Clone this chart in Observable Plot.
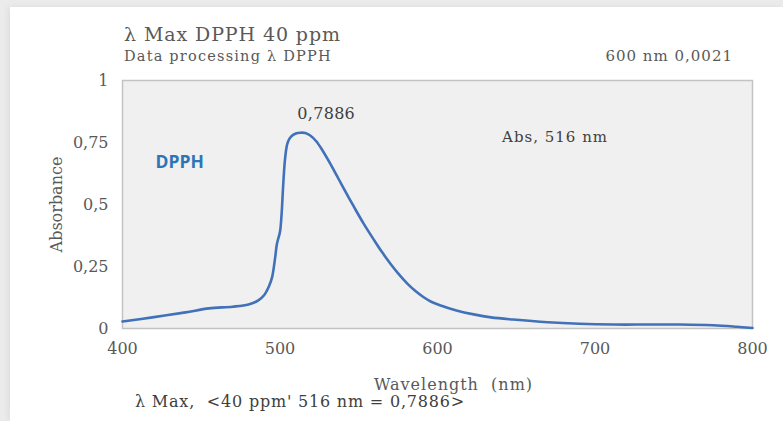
<!DOCTYPE html>
<html>
<head>
<meta charset="utf-8">
<script src="https://cdn.jsdelivr.net/npm/d3@7"></script>
<script src="https://cdn.jsdelivr.net/npm/@observablehq/plot@0.6"></script>
<style>
  html, body { margin: 0; padding: 0; }
  body { width: 783px; height: 421px; overflow: hidden; background: #ebebeb; position: relative; font-family: "DejaVu Serif", serif; }
  #card { position: absolute; left: 10px; top: 7px; right: 0; bottom: 0; background: #fff; box-shadow: -2px 0 6px rgba(0,0,0,0.06); }
  .t { position: absolute; white-space: pre; line-height: 1; color: #595959; }
  #title { left: 124px; top: 25px; font-size: 19px; letter-spacing: 0.9px; }
  #subtitle { left: 124px; top: 49px; font-size: 14.5px; letter-spacing: 1.2px; }
  #right { right: 50px; top: 49px; font-size: 15px; letter-spacing: 1px; }
  #chart { position: absolute; left: 0; top: 66px; }
  #caption { left: 135px; top: 394px; font-size: 16px; color: #404040; letter-spacing: 0.8px; }
</style>
</head>
<body>
<div id="card"></div>
<div class="t" id="title">λ Max DPPH 40 ppm</div>
<div class="t" id="subtitle">Data processing λ DPPH</div>
<div class="t" id="right">600 nm 0,0021</div>
<div id="chart"></div>
<div class="t" id="caption">λ Max,  &lt;40 ppm' 516 nm = 0,7886&gt;</div>
<script>
const wavelength = [400, 420, 440, 455, 470, 480, 486, 490, 493, 495, 497, 498, 500, 501, 502, 503, 504, 505, 507, 510, 513, 516, 519, 523, 527, 532, 536, 540, 547, 553, 560, 565, 570, 575, 581, 586, 591, 596, 602, 612, 623, 634, 648, 670, 690, 712, 733, 754, 775, 790, 800];
const absorbance = [0.028, 0.046, 0.065, 0.081, 0.088, 0.097, 0.112, 0.135, 0.17, 0.207, 0.29, 0.34, 0.39, 0.46, 0.575, 0.67, 0.725, 0.752, 0.774, 0.786, 0.7895, 0.7886, 0.779, 0.755, 0.718, 0.664, 0.617, 0.57, 0.49, 0.424, 0.354, 0.306, 0.262, 0.222, 0.18, 0.151, 0.127, 0.108, 0.093, 0.073, 0.057, 0.045, 0.036, 0.025, 0.019, 0.016, 0.016, 0.016, 0.013, 0.007, 0.002];
const xTicks = [400, 500, 600, 700, 800];
const yTicks = [0, 0.25, 0.5, 0.75, 1];
const peakWavelength = [516];
const peakAbsorbance = [0.7886];
const seriesName = ["DPPH"];
const noteText = ["Abs, 516 nm"];
const xLabel = "Wavelength  (nm)";
const yLabel = "Absorbance";

const data = wavelength.map((w, i) => ({w, a: absorbance[i]}));
const comma = d => String(d).replace(".", ",");

const chart = Plot.plot({
  width: 783,
  height: 328,
  marginLeft: 122,
  marginRight: 31,
  marginTop: 14,
  marginBottom: 66,
  style: {fontFamily: "DejaVu Serif", fontSize: "16px", color: "#595959", background: "transparent"},
  x: {domain: [400, 800], ticks: xTicks, tickFormat: comma, tickSize: 0, tickPadding: 14, label: null},
  y: {domain: [0, 1], ticks: yTicks, tickFormat: comma, tickSize: 0, tickPadding: 14, label: null},
  marks: [
    Plot.frame({fill: "#f0f0f0", stroke: "#c3c3c3", strokeWidth: 1.5}),
    Plot.line(data, {x: "w", y: "a", stroke: "#4171b9", strokeWidth: 2.6, curve: "catmull-rom"}),
    Plot.text(peakWavelength.map((w, i) => ({w, a: peakAbsorbance[i]})), {x: "w", y: "a", text: d => comma(d.a), dx: 21, dy: -19, fill: "#404040", fontSize: 16}),
    Plot.text(noteText, {x: 641, y: 0.77, text: d => d, textAnchor: "start", fill: "#404040", fontSize: 15}),
    Plot.text(seriesName, {x: 421, y: 0.67, text: d => d, textAnchor: "start", fill: "#2e75b6", fontSize: 17.5, fontWeight: "bold", fontFamily: "Open Sans"}),
    Plot.text([yLabel], {frameAnchor: "left", rotate: -90, dx: -66, textAnchor: "middle", lineAnchor: "middle", text: d => d, fill: "#595959", fontSize: 16}),
    Plot.text([xLabel], {frameAnchor: "bottom", dx: 16, dy: 56, textAnchor: "middle", lineAnchor: "middle", text: d => d, fill: "#595959", fontSize: 16})
  ]
});
const spacing = new Map([[xLabel, "1px"], [noteText[0], "1px"], [comma(peakAbsorbance[0]), "0.3px"]]);
d3.select(chart).selectAll("text").each(function() {
  const s = spacing.get(this.textContent);
  if (s) { this.setAttribute("letter-spacing", s); this.setAttribute("xml:space", "preserve"); this.style.whiteSpace = "pre"; }
});
document.getElementById("chart").append(chart);
</script>
</body>
</html>
